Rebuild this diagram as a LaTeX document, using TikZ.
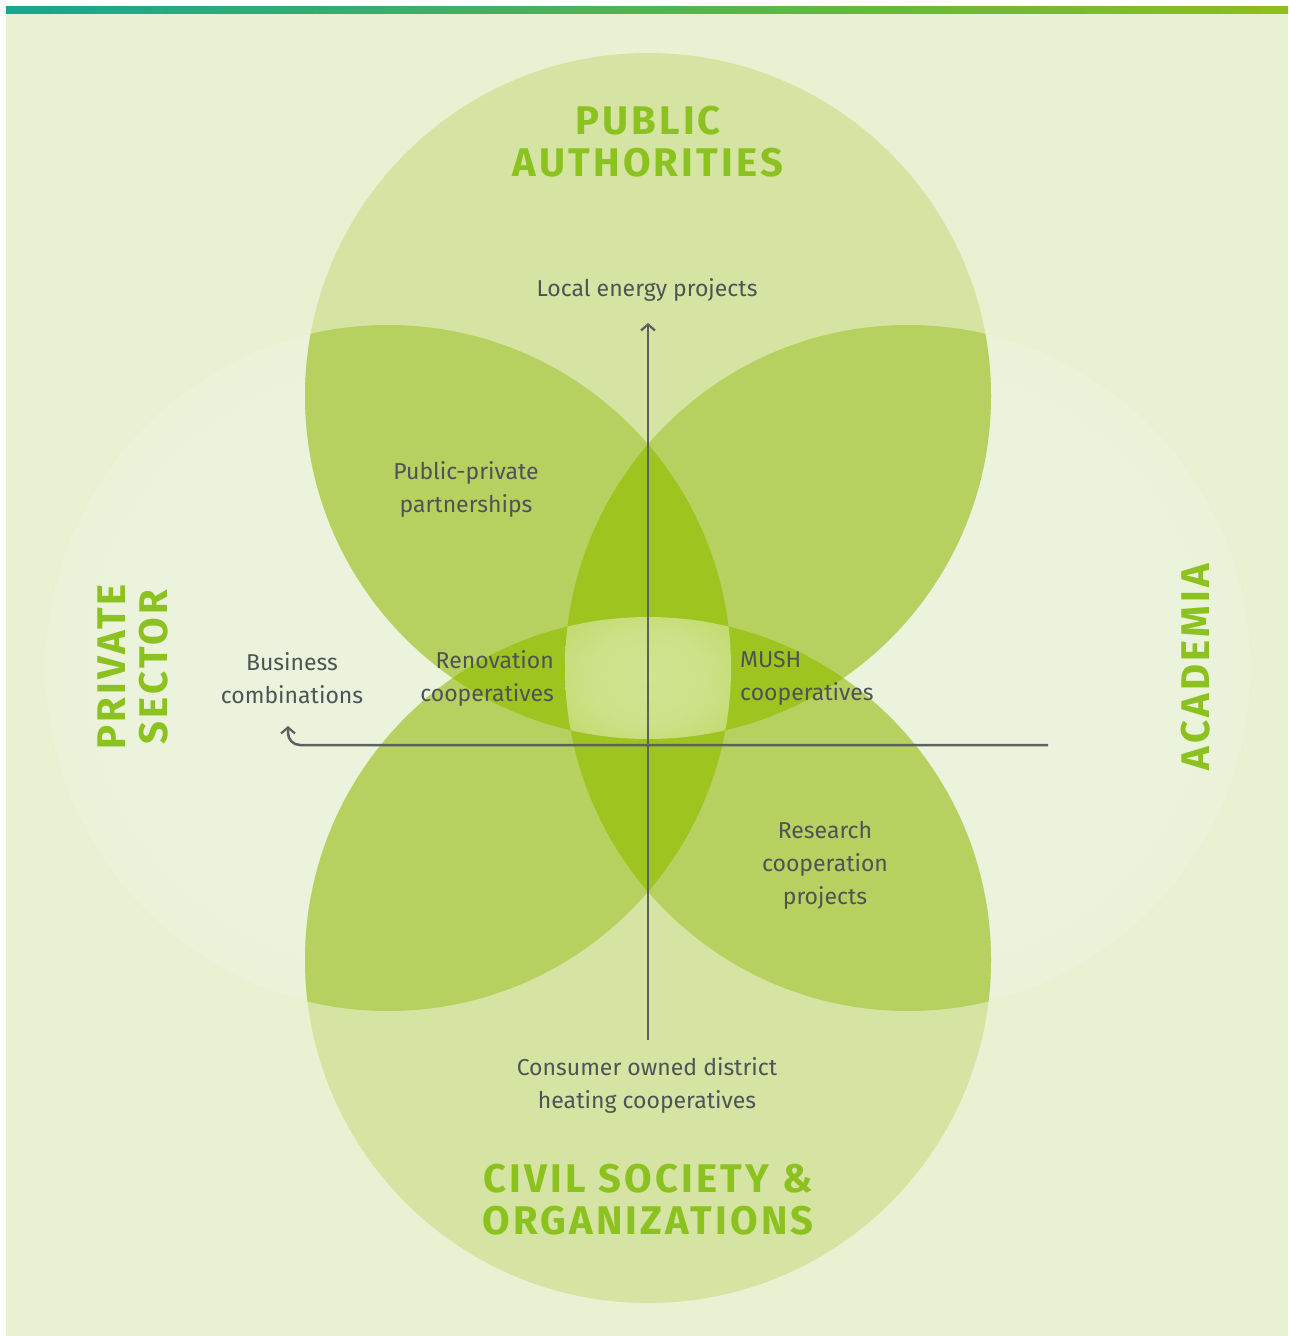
\documentclass[tikz,border=0pt]{standalone}
\usepackage{fontspec}
\setmainfont{Fira Sans}
\newfontfamily\headfont[LetterSpace=8]{Fira Sans}
\usetikzlibrary{arrows.meta,calc}
\definecolor{bgc}{HTML}{E8F1D2}
\definecolor{barl}{HTML}{14A88F}
\definecolor{barr}{HTML}{8FBE1A}
\definecolor{sidein}{HTML}{ECF3DC}
\definecolor{sideout}{HTML}{E2ECC7}
\definecolor{tbc}{HTML}{D5E4A2}
\definecolor{petalc}{HTML}{B6D160}
\definecolor{darkc}{HTML}{9EC41F}
\definecolor{glowc}{HTML}{D0E38F}
\definecolor{headc}{HTML}{8CC21F}
\definecolor{txtc}{HTML}{4E5356}
\definecolor{axc}{HTML}{5C6160}
\pgfdeclareradialshading{glow}{\pgfpoint{0bp}{0bp}}{color(0bp)=(glowc); color(16bp)=(glowc!94!darkc); color(30bp)=(glowc!70!darkc); color(44bp)=(darkc); color(50bp)=(darkc)}
\pgfdeclareradialshading{sideshade}{\pgfpoint{0bp}{0bp}}{color(0bp)=(sidein); color(20bp)=(sidein); color(45bp)=(sideout); color(50bp)=(sideout)}
\begin{document}
\begin{tikzpicture}[x=1pt,y=-1pt,
  head/.style={text=headc, font=\headfont\bfseries\fontsize{40}{42}\selectfont, align=center, inner sep=0pt},
  lbl/.style={text=txtc, font=\fontsize{23}{33}\selectfont, align=center, inner sep=0pt},
  axis/.style={draw=axc, line width=2.5pt, -{Straight Barb[length=6pt,width=14pt,line width=2.2pt]}}]
\useasboundingbox (0,0) rectangle (1288,1336);
\fill[white] (0,0) rectangle (1288,1336);
\fill[bgc] (6,12) rectangle (1288,1336);
\shade[left color=barl, right color=barr] (6,6) rectangle (1288,13);
% circles
\coordinate (ct) at (648,396);
\coordinate (cb) at (648,960);
\coordinate (cl) at (388,668);
\coordinate (cr) at (908,668);
\fill[sideout] (cl) circle (343pt);
\fill[sideout] (cr) circle (343pt);
\begin{scope}
  \clip (cl) circle (343pt);
  \shade[shading=sideshade] ($(cl)+(-343,-343)$) rectangle ($(cl)+(343,343)$);
\end{scope}
\begin{scope}
  \clip (cr) circle (343pt);
  \shade[shading=sideshade] ($(cr)+(-343,-343)$) rectangle ($(cr)+(343,343)$);
\end{scope}
\fill[tbc] (ct) circle (343pt);
\fill[tbc] (cb) circle (343pt);
\begin{scope}
  \clip (ct) circle (343pt);
  \fill[petalc] (cl) circle (343pt);
  \fill[petalc] (cr) circle (343pt);
\end{scope}
\begin{scope}
  \clip (cb) circle (343pt);
  \fill[petalc] (cl) circle (343pt);
  \fill[petalc] (cr) circle (343pt);
\end{scope}
\begin{scope}
  \clip (cl) circle (343pt);
  \fill[darkc] (cr) circle (343pt);
\end{scope}
\begin{scope}
  \clip (ct) circle (343pt);
  \fill[darkc] (cb) circle (343pt);
\end{scope}
\begin{scope}
  \clip (cl) circle (343pt);
  \clip (cr) circle (343pt);
  \clip (ct) circle (343pt);
  \clip (cb) circle (343pt);
  \shade[shading=glow] (556,608) rectangle (740,748);
\end{scope}
% axes
\coordinate (vbot) at (648,1040);
\coordinate (vtop) at (648,323);
\coordinate (hr) at (1048,745);
\coordinate (hc) at (288,745);
\coordinate (hl) at (288,726);
\draw[axis] (vbot) -- (vtop);
\draw[axis, rounded corners=12pt] (hr) -- (hc) -- (hl);
% headings
\node[head] (pub) at (648,142) {PUBLIC\\AUTHORITIES};
\node[head] (civ) at (648,1200) {CIVIL SOCIETY \&\\ORGANIZATIONS};
\node[head, rotate=90] (priv) at (133,667) {PRIVATE\\SECTOR};
\node[head, rotate=90] (acad) at (1196,667) {ACADEMIA};
% labels
\node[lbl] (loc) at (647,290) {Local energy projects};
\node[lbl] (ppp) at (466,489) {Public-private\\partnerships};
\node[lbl] (bus) at (292,678) {Business\\combinations};
\node[lbl, align=right, anchor=east] (ren) at (554,678) {Renovation\\cooperatives};
\node[lbl, align=left, anchor=west] (mush) at (740,678) {MUSH\\cooperatives};
\node[lbl] (res) at (825,865) {Research\\cooperation\\projects};
\node[lbl] (con) at (647,1085) {Consumer owned district\\heating cooperatives};
\end{tikzpicture}
\end{document}
